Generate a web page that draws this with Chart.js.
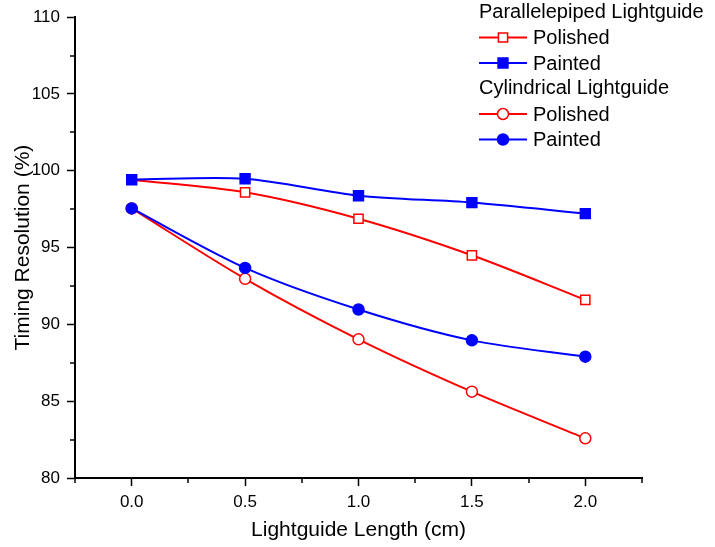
<!DOCTYPE html>
<html>
<head>
<meta charset="utf-8">
<script src="https://cdn.jsdelivr.net/npm/chart.js@4"></script>
<style>
  html, body { margin: 0; padding: 0; background: #fff; }
  #wrap { width: 715px; height: 547px; }
</style>
</head>
<body>
<div id="wrap"><canvas id="chart" width="715" height="547"></canvas></div>
<script>
const lengths = [0.0, 0.5, 1.0, 1.5, 2.0];
const paraPolished = [99.42, 98.6, 96.88, 94.5, 91.6];
const paraPainted = [99.42, 99.48, 98.38, 97.93, 97.21];
const cylPolished = [97.55, 92.97, 89.03, 85.62, 82.58];
const cylPainted = [97.55, 93.68, 90.97, 88.96, 87.9];
const xTicks = [0.0, 0.5, 1.0, 1.5, 2.0];
const yTicks = [80, 85, 90, 95, 100, 105, 110];

const RED = "#ff0000";
const BLUE = "#0000ff";
const FONT = "'Liberation Sans', Arial, sans-serif";

Chart.defaults.color = "#000";
Chart.defaults.font.family = FONT;

const toPoints = (vals) => vals.map((v, i) => ({ x: lengths[i], y: v }));

function series(label, group, vals, color, style, filled, radius) {
  return {
    label: label,
    group: group,
    data: toPoints(vals),
    order: filled ? 0 : 1, // painted (blue) sits on top
    borderColor: color,
    borderWidth: 2,
    backgroundColor: color,
    pointStyle: style,
    pointRadius: radius,
    pointBorderWidth: 1.5,
    pointBorderColor: color,
    pointBackgroundColor: filled ? color : "#fff",
    tension: 0.3,
    fill: false
  };
}

// minor ticks halfway between the labelled ones, using the scales
const minorTicks = {
  id: "minorTicks",
  afterDraw(chart) {
    const { ctx, scales: { x, y } } = chart;
    ctx.save();
    ctx.strokeStyle = "#000";
    ctx.lineWidth = 1.5;
    [-0.25, 0.25, 0.75, 1.25, 1.75, 2.25].forEach((v) => {
      const px = Math.round(x.getPixelForValue(v));
      ctx.beginPath();
      ctx.moveTo(px, y.bottom);
      ctx.lineTo(px, y.bottom + 5);
      ctx.stroke();
    });
    [82.5, 87.5, 92.5, 97.5, 102.5, 107.5].forEach((v) => {
      const py = Math.round(y.getPixelForValue(v));
      ctx.beginPath();
      ctx.moveTo(x.left, py);
      ctx.lineTo(x.left - 5, py);
      ctx.stroke();
    });
    ctx.restore();
  }
};

// grouped legend in the upper right, like the original
const groupLegend = {
  id: "groupLegend",
  afterDraw(chart) {
    const ctx = chart.ctx;
    const left = 479;
    let rowY = 12;
    const step = 25.5;
    ctx.save();
    ctx.font = "20px " + FONT;
    ctx.fillStyle = "#000";
    ctx.textBaseline = "middle";
    let lastGroup = null;
    chart.data.datasets.forEach((ds) => {
      if (ds.group !== lastGroup) {
        ctx.fillStyle = "#000";
        ctx.fillText(ds.group, left, rowY);
        rowY += step;
        lastGroup = ds.group;
      }
      ctx.strokeStyle = ds.borderColor;
      ctx.lineWidth = 2;
      ctx.beginPath();
      ctx.moveTo(left, rowY);
      ctx.lineTo(left + 48, rowY);
      ctx.stroke();
      ctx.fillStyle = ds.pointBackgroundColor;
      ctx.lineWidth = ds.pointBorderWidth;
      Chart.helpers.drawPoint(ctx, { pointStyle: ds.pointStyle, radius: ds.pointRadius, rotation: 0, borderWidth: ds.pointBorderWidth }, left + 24, rowY);
      ctx.fillStyle = "#000";
      ctx.fillText(ds.label, left + 54, rowY + 1);
      rowY += step;
    });
    ctx.restore();
  }
};

const data = {
  datasets: [
    series("Polished", "Parallelepiped Lightguide", paraPolished, RED, "rect", false, 6.5),
    series("Painted", "Parallelepiped Lightguide", paraPainted, BLUE, "rect", true, 7),
    series("Polished", "Cylindrical Lightguide", cylPolished, RED, "circle", false, 5.5),
    series("Painted", "Cylindrical Lightguide", cylPainted, BLUE, "circle", true, 5.5)
  ]
};

const config = {
  type: "line",
  data: data,
  options: {
    responsive: false,
    animation: false,
    layout: { padding: { top: 16, right: 73, left: 0, bottom: 0 } },
    plugins: {
      legend: { display: false },
      tooltip: { enabled: false }
    },
    scales: {
      x: {
        type: "linear",
        min: -0.25,
        max: 2.25,
        afterBuildTicks: (scale) => {
          scale.ticks = xTicks.map((v) => ({ value: v }));
        },
        afterFit: (scale) => { scale.height = 69; },
        ticks: {
          font: { size: 17 },
          padding: 6,
          maxRotation: 0,
          callback: (value) => Number(value).toFixed(1)
        },
        grid: {
          drawOnChartArea: false,
          tickLength: 8,
          tickColor: "#000",
          tickWidth: 1.5
        },
        border: { display: true, color: "#000", width: 2 },
        title: {
          display: true,
          text: "Lightguide Length (cm)",
          font: { size: 21 },
          padding: { top: 0, bottom: 4 }
        }
      },
      y: {
        min: 80,
        max: 110,
        afterBuildTicks: (scale) => {
          scale.ticks = yTicks.map((v) => ({ value: v }));
        },
        afterFit: (scale) => { scale.width = 75; },
        ticks: {
          font: { size: 17 },
          padding: 7,
          callback: (value) => value
        },
        grid: {
          drawOnChartArea: false,
          tickLength: 8,
          tickColor: "#000",
          tickWidth: 1.5
        },
        border: { display: true, color: "#000", width: 2 },
        title: {
          display: true,
          text: "Timing Resolution (%)",
          font: { size: 21 },
          padding: { top: 11, bottom: 0 }
        }
      }
    }
  },
  plugins: [minorTicks, groupLegend]
};

const myChart = new Chart(document.getElementById("chart"), config);
</script>
</body>
</html>
